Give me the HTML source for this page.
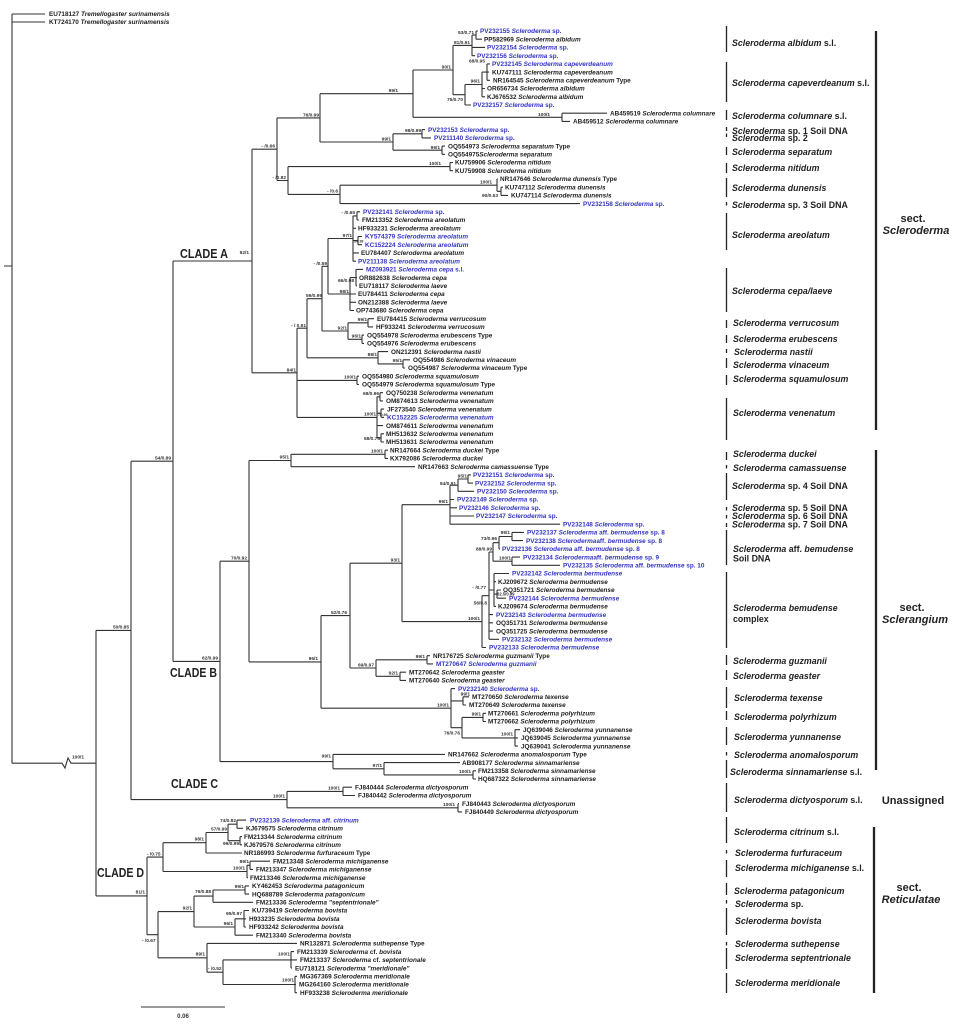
<!DOCTYPE html>
<html><head><meta charset="utf-8"><style>
html,body{margin:0;padding:0;background:#fff}
svg{display:block}
.t{fill:none;stroke:#333;stroke-width:1.1}
.l{font-family:"Liberation Sans",Arial,sans-serif;font-weight:bold;font-size:6.4px;fill:#1e1e1e}
.b{fill:#3434c4}
.i{font-style:italic}
.s{font-family:"Liberation Sans",Arial,sans-serif;font-weight:bold;font-size:4.8px;fill:#333;text-anchor:end}
.ss{font-family:"Liberation Sans",Arial,sans-serif;font-weight:bold;font-size:4.8px;fill:#333}
.tiny{font-family:"Liberation Sans",Arial,sans-serif;font-weight:bold;font-size:3.4px;fill:#333}
.r{font-family:"Liberation Sans",Arial,sans-serif;font-weight:bold;font-size:8.8px;fill:#222}
.sec{font-family:"Liberation Sans",Arial,sans-serif;font-weight:bold;font-size:11px;fill:#222;text-anchor:middle}
.cl{font-family:"Liberation Sans",Arial,sans-serif;font-weight:bold;font-size:13px;fill:#222}
.bar{stroke:#222;stroke-width:1.3}
.sbar{stroke:#222;stroke-width:2.3}
</style></head><body>
<svg width="955" height="1024" viewBox="0 0 955 1024" xmlns="http://www.w3.org/2000/svg">
<rect width="955" height="1024" fill="#fff"/>
<path class="t" d="
M476 31V39.2 M476 31H478 M476 39.2H482
M472 35.1V55.7 M472 35.1H476 M472 47.4H485 M472 55.7H475
M487 63.9V80.3 M487 63.9H490 M487 72.1H489 M487 80.3H490
M482 72.1V96.8 M482 72.1H487 M482 88.5H485 M482 96.8H485
M465 84.5V105 M465 84.5H482 M465 105H471
M453 45.4V94.7 M453 45.4H472 M453 94.7H465
M562 113.2V121.4 M562 113.2H607 M562 121.4H570
M413 70V117.3 M413 70H453 M413 117.3H562
M422 129.6V137.9 M422 129.6H425 M422 137.9H431
M442 146.1V154.3 M442 146.1H445 M442 154.3H445
M393 133.8V150.2 M393 133.8H422 M393 150.2H442
M320 93.7V142 M320 93.7H413 M320 142H393
M450 162.5V170.7 M450 162.5H453 M450 170.7H453
M501 187.2V195.4 M501 187.2H503 M501 195.4H508
M497 179V191.3 M497 179H498 M497 191.3H501
M340 185.2V203.6 M340 185.2H497 M340 203.6H580
M288 166.6V194.4 M288 166.6H450 M288 194.4H340
M277 117.9V180.5 M277 117.9H320 M277 180.5H288
M252 149.2V372.8 M252 149.2H277 M252 372.8H297
M357 211.8V220 M357 211.8H360 M357 220H359
M358 236.5V244.7 M358 236.5H362 M358 244.7H362
M353 215.9V261.2 M353 215.9H357 M353 228.3H356 M353 240.6H358 M353 252.9H359 M353 261.2H356
M356 269.4V285.8 M356 269.4H363 M356 277.6H357 M356 285.8H357
M350 277.6V310.5 M350 277.6H356 M350 294H356 M350 302.3H356 M350 310.5H354
M328 238.5V294 M328 238.5H353 M328 294H350
M368 318.7V326.9 M368 318.7H374 M368 326.9H373
M362 335.1V343.4 M362 335.1H364 M362 343.4H364
M348 322.8V339.3 M348 322.8H368 M348 339.3H362
M322 266.3V331 M322 266.3H328 M322 331H348
M403 359.8V368 M403 359.8H410 M403 368H405
M378 351.6V363.9 M378 351.6H388 M378 363.9H403
M307 298.7V357.8 M307 298.7H322 M307 357.8H378
M357 376.2V384.5 M357 376.2H359 M357 384.5H359
M380 392.7V400.9 M380 392.7H383 M380 400.9H383
M381 409.1V417.3 M381 409.1H384 M381 417.3H384
M381 433.8V442 M381 433.8H384 M381 442H384
M377 396.8V437.9 M377 396.8H380 M377 413.2H381 M377 425.6H383 M377 437.9H381
M297 328.2V417.4 M297 328.2H307 M297 380.4H357 M297 417.4H377
M385 450.2V458.4 M385 450.2H388 M385 458.4H388
M291 454.3V466.7 M291 454.3H385 M291 466.7H415
M468 474.9V483.1 M468 474.9H471 M468 483.1H473
M458 479V491.3 M458 479H468 M458 491.3H474
M450 485.2V524.2 M450 485.2H458 M450 499.5H454 M450 507.8H457 M450 516H474 M450 524.2H560
M512 532.4V540.6 M512 532.4H524 M512 540.6H523
M499 536.5V548.9 M499 536.5H512 M499 548.9H500
M512 557.1V565.3 M512 557.1H520 M512 565.3H560
M493 542.7V561.2 M493 542.7H499 M493 561.2H512
M497 590V598.2 M497 590H501 M497 598.2H506
M494 573.5V606.4 M494 573.5H509 M494 581.7H496 M494 594.1H497 M494 606.4H496
M489 552V639.3 M489 552H493 M489 590H494 M489 614.6H493 M489 622.8H493 M489 631.1H493 M489 639.3H499
M482 595.7V647.5 M482 595.7H489 M482 647.5H486
M402 504.7V621.6 M402 504.7H450 M402 621.6H482
M427 655.7V663.9 M427 655.7H430 M427 663.9H433
M400 672.2V680.4 M400 672.2H406 M400 680.4H406
M376 659.8V676.3 M376 659.8H427 M376 676.3H400
M350 563.2V668 M350 563.2H402 M350 668H376
M463 696.8V705 M463 696.8H469 M463 705H466
M483 713.3V721.5 M483 713.3H486 M483 721.5H486
M515 729.7V746.1 M515 729.7H520 M515 737.9H518 M515 746.1H518
M462 717.4V737.9 M462 717.4H483 M462 737.9H515
M451 688.6V727.7 M451 688.6H455 M451 700.9H463 M451 727.7H462
M321 615.6V708.2 M321 615.6H350 M321 708.2H451
M249 460.5V661.9 M249 460.5H291 M249 661.9H321
M473 770.8V779 M473 770.8H476 M473 779H476
M384 762.6V774.9 M384 762.6H460 M384 774.9H473
M333 754.4V768.8 M333 754.4H445 M333 768.8H384
M220 561.2V761.6 M220 561.2H249 M220 761.6H333
M173 261V661.4 M173 261H252 M173 661.4H220
M343 787.2V795.5 M343 787.2H352 M343 795.5H355
M458 803.7V811.9 M458 803.7H459 M458 811.9H462
M287 791.4V807.8 M287 791.4H343 M287 807.8H458
M131 461.2V799.6 M131 461.2H173 M131 799.6H287
M237 820.1V828.3 M237 820.1H246 M237 828.3H243
M240 836.6V844.8 M240 836.6H242 M240 844.8H242
M228 824.2V840.7 M228 824.2H237 M228 840.7H240
M206 832.5V853 M206 832.5H228 M206 853H242
M250 861.2V869.4 M250 861.2H270 M250 869.4H253
M247 865.3V877.7 M247 865.3H250 M247 877.7H248
M163 842.7V871.5 M163 842.7H206 M163 871.5H247
M245 885.9V894.1 M245 885.9H249 M245 894.1H249
M213 890V902.3 M213 890H245 M213 902.3H253
M244 910.5V927 M244 910.5H249 M244 918.8H246 M244 927H246
M235 918.8V935.2 M235 918.8H244 M235 935.2H253
M194 896.1V927 M194 896.1H213 M194 927H235
M291 951.6V968.1 M291 951.6H294 M291 959.9H297 M291 968.1H292
M295 976.3V992.7 M295 976.3H297 M295 984.5H296 M295 992.7H297
M223 959.9V984.5 M223 959.9H291 M223 984.5H295
M207 943.4V972.2 M207 943.4H297 M207 972.2H223
M158 911.6V957.8 M158 911.6H194 M158 957.8H207
M147 857.1V934.7 M147 857.1H163 M147 934.7H158
M96 630.4V895.9 M96 630.4H131 M96 895.9H147
M12 14V763.2 M12 14H45 M12 22H45 M12 763.2H62 L65 768 L68 758 L71 763.2H96
M4 266H12
M141 1007H225
"/>

<!-- outgroup -->
<text class="l" x="49" y="16.2">EU718127 <tspan class="i">Tremellogaster surinamensis</tspan></text>
<text class="l" x="49" y="24.2">KT724170 <tspan class="i">Tremellogaster surinamensis</tspan></text>

<!-- leaves -->
<text class="l b" x="480" y="33.2">PV232155 <tspan class="i">Scleroderma</tspan> sp.</text>
<text class="l" x="484" y="41.4">PP582969 <tspan class="i">Scleroderma albidum</tspan></text>
<text class="l b" x="487" y="49.6">PV232154 <tspan class="i">Scleroderma</tspan> sp.</text>
<text class="l b" x="477" y="57.9">PV232156 <tspan class="i">Scleroderma</tspan> sp.</text>
<text class="l b" x="492" y="66.1">PV232145 <tspan class="i">Scleroderma capeverdeanum</tspan></text>
<text class="l" x="492" y="74.3">KU747111 <tspan class="i">Scleroderma capeverdeanum</tspan></text>
<text class="l" x="493" y="82.5">NR164545 <tspan class="i">Scleroderma capeverdeanum</tspan> Type</text>
<text class="l" x="487" y="90.7">OR656734 <tspan class="i">Scleroderma albidum</tspan></text>
<text class="l" x="487" y="99.0">KJ676532 <tspan class="i">Scleroderma albidum</tspan></text>
<text class="l b" x="473" y="107.2">PV232157 <tspan class="i">Scleroderma</tspan> sp.</text>
<text class="l" x="610" y="115.4">AB459519 <tspan class="i">Scleroderma columnare</tspan></text>
<text class="l" x="573" y="123.6">AB459512 <tspan class="i">Scleroderma  columnare</tspan></text>
<text class="l b" x="428" y="131.8">PV232153 <tspan class="i">Scleroderma</tspan> sp.</text>
<text class="l b" x="434" y="140.1">PV211140 <tspan class="i">Scleroderma</tspan> sp.</text>
<text class="l" x="448" y="148.3">OQ554973 <tspan class="i">Scleroderma separatum</tspan> Type</text>
<text class="l" x="448" y="156.5">OQ554975<tspan class="i">Scleroderma separatum</tspan></text>
<text class="l" x="455" y="164.7">KU759906 <tspan class="i">Scleroderma nitidum</tspan></text>
<text class="l" x="455" y="172.9">KU759908 <tspan class="i">Scleroderma nitidum</tspan></text>
<text class="l" x="500" y="181.2">NR147646 <tspan class="i">Scleroderma dunensis</tspan> Type</text>
<text class="l" x="505" y="189.4">KU747112 <tspan class="i">Scleroderma dunensis</tspan></text>
<text class="l" x="511" y="197.6">KU747114 <tspan class="i">Scleroderma dunensis</tspan></text>
<text class="l b" x="583" y="205.8">PV232158 <tspan class="i">Scleroderma</tspan> sp.</text>
<text class="l b" x="363" y="214.0">PV232141 <tspan class="i">Scleroderma</tspan> sp.</text>
<text class="l" x="362" y="222.2">FM213352 <tspan class="i">Scleroderma areolatum</tspan></text>
<text class="l" x="358" y="230.5">HF933231 <tspan class="i">Scleroderma areolatum</tspan></text>
<text class="l b" x="365" y="238.7">KY574379 <tspan class="i">Scleroderma areolatum</tspan></text>
<text class="l b" x="365" y="246.9">KC152224 <tspan class="i">Scleroderma areolatum</tspan></text>
<text class="l" x="361" y="255.1">EU784407 <tspan class="i">Scleroderma areolatum</tspan></text>
<text class="l b" x="358" y="263.4">PV211138 <tspan class="i">Scleroderma areolatum</tspan></text>
<text class="l b" x="366" y="271.6">MZ093921 <tspan class="i">Scleroderma cepa</tspan> s.l.</text>
<text class="l" x="359" y="279.8">OR882638 <tspan class="i">Scleroderma cepa</tspan></text>
<text class="l" x="359" y="288.0">EU718117 <tspan class="i">Scleroderma laeve</tspan></text>
<text class="l" x="358" y="296.2">EU784411 <tspan class="i">Scleroderma cepa</tspan></text>
<text class="l" x="358" y="304.5">ON212388 <tspan class="i">Scleroderma laeve</tspan></text>
<text class="l" x="356" y="312.7">OP743680 <tspan class="i">Scleroderma cepa</tspan></text>
<text class="l" x="377" y="320.9">EU784415 <tspan class="i">Scleroderma verrucosum</tspan></text>
<text class="l" x="376" y="329.1">HF933241 <tspan class="i">Scleroderma verrucosum</tspan></text>
<text class="l" x="367" y="337.3">OQ554978 <tspan class="i">Scleroderma erubescens</tspan> Type</text>
<text class="l" x="367" y="345.6">OQ554976 <tspan class="i">Scleroderma erubescens</tspan></text>
<text class="l" x="391" y="353.8">ON212391 <tspan class="i">Scleroderma nastii</tspan></text>
<text class="l" x="413" y="362.0">OQ554986 <tspan class="i">Scleroderma vinaceum</tspan></text>
<text class="l" x="408" y="370.2">OQ554987 <tspan class="i">Scleroderma vinaceum</tspan> Type</text>
<text class="l" x="362" y="378.4">OQ554980 <tspan class="i">Scleroderma squamulosum</tspan></text>
<text class="l" x="362" y="386.7">OQ554979 <tspan class="i">Scleroderma squamulosum</tspan> Type</text>
<text class="l" x="386" y="394.9">OQ750238 <tspan class="i">Scleroderma venenatum</tspan></text>
<text class="l" x="386" y="403.1">OM874613 <tspan class="i">Scleroderma venenatum</tspan></text>
<text class="l" x="387" y="411.3">JF273540 <tspan class="i">Scleroderma venenatum</tspan></text>
<text class="l b" x="387" y="419.5">KC152225 <tspan class="i">Scleroderma venenatum</tspan></text>
<text class="l" x="386" y="427.8">OM874611 <tspan class="i">Scleroderma venenatum</tspan></text>
<text class="l" x="386" y="436.0">MH513632 <tspan class="i">Scleroderma venenatum</tspan></text>
<text class="l" x="386" y="444.2">MH513631 <tspan class="i">Scleroderma venenatum</tspan></text>
<text class="l" x="390" y="452.4">NR147664 <tspan class="i">Scleroderma duckei</tspan> Type</text>
<text class="l" x="390" y="460.6">KX792086 <tspan class="i">Scleroderma duckei</tspan></text>
<text class="l" x="418" y="468.9">NR147663 <tspan class="i">Scleroderma camassuense</tspan> Type</text>
<text class="l b" x="473" y="477.1">PV232151 <tspan class="i">Scleroderma</tspan> sp.</text>
<text class="l b" x="475" y="485.3">PV232152 <tspan class="i">Scleroderma</tspan> sp.</text>
<text class="l b" x="477" y="493.5">PV232150 <tspan class="i">Scleroderma</tspan> sp.</text>
<text class="l b" x="457" y="501.7">PV232149 <tspan class="i">Scleroderma</tspan> sp.</text>
<text class="l b" x="459" y="510.0">PV232146 <tspan class="i">Scleroderma</tspan> sp.</text>
<text class="l b" x="476" y="518.2">PV232147 <tspan class="i">Scleroderma</tspan> sp.</text>
<text class="l b" x="563" y="526.4">PV232148 <tspan class="i">Scleroderma</tspan> sp.</text>
<text class="l b" x="527" y="534.6">PV232137 <tspan class="i">Scleroderma</tspan> aff. <tspan class="i">bermudense</tspan> sp. 8</text>
<text class="l b" x="526" y="542.8">PV232138 <tspan class="i">Scleroderma</tspan>aff. <tspan class="i">bermudense</tspan> sp. 8</text>
<text class="l b" x="502" y="551.1">PV232136 <tspan class="i">Scleroderma</tspan>  aff.  <tspan class="i">bermudense</tspan>  sp. 8</text>
<text class="l b" x="523" y="559.3">PV232134 <tspan class="i">Scleroderma</tspan>aff. <tspan class="i">bermudense</tspan> sp. 9</text>
<text class="l b" x="563" y="567.5">PV232135 <tspan class="i">Scleroderma</tspan> aff. <tspan class="i">bermudense</tspan> sp. 10</text>
<text class="l b" x="512" y="575.7">PV232142 <tspan class="i">Scleroderma bermudense</tspan></text>
<text class="l" x="498" y="583.9">KJ209672 <tspan class="i">Scleroderma bermudense</tspan></text>
<text class="l" x="503" y="592.2">OQ351721 <tspan class="i">Scleroderma bermudense</tspan></text>
<text class="l b" x="509" y="600.4">PV232144 <tspan class="i">Scleroderma bermudense</tspan></text>
<text class="l" x="498" y="608.6">KJ209674 <tspan class="i">Scleroderma bermudense</tspan></text>
<text class="l b" x="496" y="616.8">PV232143 <tspan class="i">Scleroderma bermudense</tspan></text>
<text class="l" x="496" y="625.0">OQ351731 <tspan class="i">Scleroderma bermudense</tspan></text>
<text class="l" x="496" y="633.3">OQ351725 <tspan class="i">Scleroderma bermudense</tspan></text>
<text class="l b" x="502" y="641.5">PV232132 <tspan class="i">Scleroderma bermudense</tspan></text>
<text class="l b" x="489" y="649.7">PV232133 <tspan class="i">Scleroderma bermudense</tspan></text>
<text class="l" x="433" y="657.9">NR176725 <tspan class="i">Scleroderma guzmanii</tspan> Type</text>
<text class="l b" x="436" y="666.1">MT270647 <tspan class="i">Scleroderma guzmanii</tspan></text>
<text class="l" x="409" y="674.4">MT270642 <tspan class="i">Scleroderma geaster</tspan></text>
<text class="l" x="409" y="682.6">MT270640 <tspan class="i">Scleroderma geaster</tspan></text>
<text class="l b" x="458" y="690.8">PV232140 <tspan class="i">Scleroderma</tspan> sp.</text>
<text class="l" x="472" y="699.0">MT270650 <tspan class="i">Scleroderma texense</tspan></text>
<text class="l" x="469" y="707.2">MT270649 <tspan class="i">Scleroderma texense</tspan></text>
<text class="l" x="488" y="715.5">MT270661 <tspan class="i">Scleroderma polyrhizum</tspan></text>
<text class="l" x="488" y="723.7">MT270662 <tspan class="i">Scleroderma polyrhizum</tspan></text>
<text class="l" x="523" y="731.9">JQ639046 <tspan class="i">Scleroderma yunnanense</tspan></text>
<text class="l" x="521" y="740.1">JQ639045 <tspan class="i">Scleroderma yunnanense</tspan></text>
<text class="l" x="521" y="748.3">JQ639041 <tspan class="i">Scleroderma yunnanense</tspan></text>
<text class="l" x="448" y="756.6">NR147662 <tspan class="i">Scleroderma anomalosporum</tspan> Type</text>
<text class="l" x="462" y="764.8">AB908177 <tspan class="i">Scleroderma sinnamariense</tspan></text>
<text class="l" x="478" y="773.0">FM213358 <tspan class="i">Scleroderma sinnamariense</tspan></text>
<text class="l" x="478" y="781.2">HQ687322 <tspan class="i">Scleroderma sinnamariense</tspan></text>
<text class="l" x="355" y="789.4">FJ840444 <tspan class="i">Scleroderma dictyosporum</tspan></text>
<text class="l" x="358" y="797.7">FJ840442 <tspan class="i">Scleroderma dictyosporum</tspan></text>
<text class="l" x="462" y="805.9">FJ840443 <tspan class="i">Scleroderma dictyosporum</tspan></text>
<text class="l" x="465" y="814.1">FJ840449 <tspan class="i">Scleroderma dictyosporum</tspan></text>
<text class="l b" x="250" y="822.3">PV232139 <tspan class="i">Scleroderma</tspan>  aff.  <tspan class="i">citrinum</tspan></text>
<text class="l" x="246" y="830.5">KJ679575 <tspan class="i">Scleroderma citrinum</tspan></text>
<text class="l" x="244" y="838.8">FM213344 <tspan class="i">Scleroderma citrinum</tspan></text>
<text class="l" x="244" y="847.0">KJ679576 <tspan class="i">Scleroderma citrinum</tspan></text>
<text class="l" x="244" y="855.2">NR186993 <tspan class="i">Scleroderma furfuraceum</tspan> Type</text>
<text class="l" x="273" y="863.4">FM213348 <tspan class="i">Scleroderma michiganense</tspan></text>
<text class="l" x="256" y="871.6">FM213347 <tspan class="i">Scleroderma michiganense</tspan></text>
<text class="l" x="250" y="879.9">FM213346 <tspan class="i">Scleroderma michiganense</tspan></text>
<text class="l" x="252" y="888.1">KY462453 <tspan class="i">Scleroderma patagonicum</tspan></text>
<text class="l" x="252" y="896.3">HQ688789 <tspan class="i">Scleroderma patagonicum</tspan></text>
<text class="l" x="256" y="904.5">FM213336 <tspan class="i">Scleroderma "septentrionale"</tspan></text>
<text class="l" x="252" y="912.7">KU739419 <tspan class="i">Scleroderma bovista</tspan></text>
<text class="l" x="249" y="921.0">H933235 <tspan class="i">Scleroderma bovista</tspan></text>
<text class="l" x="249" y="929.2">HF933242 <tspan class="i">Scleroderma bovista</tspan></text>
<text class="l" x="256" y="937.4">FM213340 <tspan class="i">Scleroderma bovista</tspan></text>
<text class="l" x="300" y="945.6">NR132871 <tspan class="i">Scleroderma suthepense</tspan> Type</text>
<text class="l" x="297" y="953.8">FM213339 <tspan class="i">Scleroderma</tspan> cf. <tspan class="i">bovista</tspan></text>
<text class="l" x="300" y="962.1">FM213337 <tspan class="i">Scleroderma</tspan> cf. <tspan class="i">septentrionale</tspan></text>
<text class="l" x="295" y="970.3">EU718121 <tspan class="i">Scleroderma "meridionale"</tspan></text>
<text class="l" x="300" y="978.5">MG367369 <tspan class="i">Scleroderma meridionale</tspan></text>
<text class="l" x="299" y="986.7">MG264160 <tspan class="i">Scleroderma meridionale</tspan></text>
<text class="l" x="300" y="994.9">HF933238 <tspan class="i">Scleroderma meridionale</tspan></text>

<!-- support values -->
<text class="s" x="474" y="34">53/0.71</text>
<text class="s" x="470" y="44">81/0.91</text>
<text class="s" x="451" y="68.5">90/1</text>
<text class="s" x="485" y="62.5">68/0.95</text>
<text class="s" x="480" y="82.5">96/1</text>
<text class="s" x="463" y="101">75/0.70</text>
<text class="s" x="398" y="92">99/1</text>
<text class="s" x="550" y="115.8">100/1</text>
<text class="s" x="421" y="132">98/0.99</text>
<text class="s" x="391" y="140.5">99/1</text>
<text class="s" x="440" y="149">99/1</text>
<text class="s" x="441" y="165">100/1</text>
<text class="s" x="492" y="183.5">100/1</text>
<text class="s" x="498" y="197">90/0.53</text>
<text class="s" x="319" y="116.5">76/0.99</text>
<text class="s" x="275" y="147.5">- /0.66</text>
<text class="s" x="286" y="179">- /0.82</text>
<text class="s" x="338" y="192.5">- /0.6</text>
<text class="s" x="249" y="254">92/1</text>
<text class="s" x="355" y="214">- /0.65</text>
<text class="s" x="352" y="237">97/1</text>
<text class="tiny" x="354" y="242.5">3/0.99</text>
<text class="s" x="327" y="265">- /0.59</text>
<text class="s" x="354" y="282">66/0.98</text>
<text class="s" x="349" y="293">98/1</text>
<text class="s" x="322" y="297">59/0.99</text>
<text class="s" x="367" y="321">99/1</text>
<text class="s" x="347" y="329.5">92/1</text>
<text class="s" x="361" y="337.5">96/1</text>
<text class="s" x="306" y="327">- / 0.91</text>
<text class="s" x="377" y="356">88/1</text>
<text class="s" x="402" y="362">95/1</text>
<text class="s" x="296" y="371.5">84/1</text>
<text class="s" x="356" y="378.5">100/1</text>
<text class="s" x="379" y="395">68/0.96</text>
<text class="s" x="376" y="415.5">100/1</text>
<text class="tiny" x="378" y="416">7/0.99</text>
<text class="s" x="380" y="440">68/0.75</text>
<text class="s" x="171" y="459.5">54/0.89</text>
<text class="s" x="129" y="628.5">50/0.85</text>
<text class="s" x="218" y="659.5">62/0.99</text>
<text class="s" x="247" y="559.5">70/0.92</text>
<text class="s" x="289" y="458.5">95/1</text>
<text class="s" x="383" y="452.5">100/1</text>
<text class="s" x="467" y="477.5">95/1</text>
<text class="s" x="456" y="485">84/0.91</text>
<text class="s" x="448" y="503">99/1</text>
<text class="s" x="400" y="561.5">93/1</text>
<text class="s" x="510" y="534">99/1</text>
<text class="s" x="497" y="540">73/0.96</text>
<text class="s" x="492" y="550.5">88/0.99</text>
<text class="s" x="511" y="559.5">100/1</text>
<text class="s" x="486" y="589">- /0.77</text>
<text class="ss" x="497" y="595.5" style="font-size:4.2px">62.5/0.99</text>
<text class="s" x="487" y="604.5">56/0.8</text>
<text class="s" x="480" y="620">100/1</text>
<text class="s" x="347" y="614">52/0.76</text>
<text class="s" x="318" y="660">96/1</text>
<text class="s" x="374" y="666.5">69/0.97</text>
<text class="s" x="425" y="658">99/1</text>
<text class="s" x="398" y="674.5">92/1</text>
<text class="s" x="449" y="706.5">100/1</text>
<text class="s" x="470" y="695.5">99/1</text>
<text class="s" x="481" y="715.5">99/1</text>
<text class="s" x="460" y="734.5">76/0.76</text>
<text class="s" x="513" y="735.5">100/1</text>
<text class="s" x="331" y="757.5">99/1</text>
<text class="s" x="382" y="767">97/1</text>
<text class="s" x="471" y="773">100/1</text>
<text class="s" x="285" y="797.5">100/1</text>
<text class="s" x="340" y="789.5">100/1</text>
<text class="s" x="455" y="806">100/1</text>
<text class="ss" x="72" y="758.5">100/1</text>
<text class="s" x="145" y="893.5">81/1</text>
<text class="ss" x="147" y="855.5">- /0.75</text>
<text class="s" x="204" y="840.5">98/1</text>
<text class="s" x="227" y="830.5">57/0.99</text>
<text class="s" x="236" y="822">74/0.82</text>
<text class="s" x="239" y="845">99/0.99</text>
<text class="s" x="245" y="869.5">100/1</text>
<text class="s" x="249" y="863">89/1</text>
<text class="ss" x="142" y="942">- /0.67</text>
<text class="s" x="192" y="909.5">92/1</text>
<text class="s" x="211" y="893">76/0.88</text>
<text class="s" x="244" y="888">99/1</text>
<text class="s" x="233" y="925">96/1</text>
<text class="s" x="242" y="915">95/0.97</text>
<text class="s" x="205" y="955.5">89/1</text>
<text class="ss" x="208" y="970">- /0.52</text>
<text class="s" x="290" y="955.5">100/1</text>
<text class="s" x="294" y="981.5">100/1</text>

<!-- clade labels -->
<text class="cl" x="180" y="258" textLength="48" lengthAdjust="spacingAndGlyphs">CLADE A</text>
<text class="cl" x="170" y="677" textLength="47" lengthAdjust="spacingAndGlyphs">CLADE B</text>
<text class="cl" x="171" y="788" textLength="47" lengthAdjust="spacingAndGlyphs">CLADE C</text>
<text class="cl" x="97" y="877" textLength="47" lengthAdjust="spacingAndGlyphs">CLADE D</text>

<!-- scale bar -->
<text class="ss" x="183" y="1018" style="text-anchor:middle;font-size:6px">0.06</text>

<!-- right bars -->
<path class="bar" d="M726.5 26V52 M726.5 62V102 M726.5 110V120 M726.5 127V131 M726.5 133.5V137 M726.5 147V155 M726.5 163V173 M726.5 178V197 M726.5 202V205.5 M726.5 213V250 M726.5 268V312 M726.5 320V328 M726.5 335V343 M726.5 349V353 M726.5 358V368 M726.5 375V385 M726.5 398V440
M726.5 452V460 M726.5 465V468.5 M726.5 473V500 M726.5 507V510.5 M726.5 515V518.5 M726.5 523V527 M726.5 530V565 M726.5 572V648 M726.5 655V665 M726.5 670V680 M726.5 687V708 M726.5 711V720 M726.5 727V745 M726.5 752V755.5 M726.5 760V778 M726.5 783V812
M726.5 817V843 M726.5 850V853.5 M726.5 860V877 M726.5 883V895 M726.5 900V903.5 M726.5 908V935 M726.5 942V945.5 M726.5 948V969 M726.5 973V993"/>
<path class="sbar" d="M876 31V430 M876 450V770 M874 827V993"/>

<!-- right labels -->
<text class="r" x="732" y="46.2"><tspan class="i">Scleroderma albidum</tspan> s.l.</text>
<text class="r" x="732" y="86.2"><tspan class="i">Scleroderma capeverdeanum</tspan> s.l.</text>
<text class="r" x="732" y="119.2"><tspan class="i">Scleroderma columnare</tspan> s.l.</text>
<text class="r" x="732" y="134"><tspan class="i">Scleroderma</tspan> sp. 1 Soil DNA</text>
<text class="r" x="732" y="141"><tspan class="i">Scleroderma</tspan> sp. 2</text>
<text class="r" x="732" y="155"><tspan class="i">Scleroderma separatum</tspan></text>
<text class="r" x="732" y="171"><tspan class="i">Scleroderma nitidum</tspan></text>
<text class="r" x="732" y="191"><tspan class="i">Scleroderma dunensis</tspan></text>
<text class="r" x="732" y="208"><tspan class="i">Scleroderma</tspan> sp. 3 Soil DNA</text>
<text class="r" x="732" y="238"><tspan class="i">Scleroderma areolatum</tspan></text>
<text class="r" x="732" y="294"><tspan class="i">Scleroderma cepa/laeve</tspan></text>
<text class="r" x="733" y="326"><tspan class="i">Scleroderma verrucosum</tspan></text>
<text class="r" x="733" y="342"><tspan class="i">Scleroderma erubescens</tspan></text>
<text class="r" x="734" y="355"><tspan class="i">Scleroderma nastii</tspan></text>
<text class="r" x="733" y="368"><tspan class="i">Scleroderma vinaceum</tspan></text>
<text class="r" x="733" y="382"><tspan class="i">Scleroderma squamulosum</tspan></text>
<text class="r" x="733" y="416"><tspan class="i">Scleroderma venenatum</tspan></text>
<text class="r" x="733" y="457"><tspan class="i">Scleroderma duckei</tspan></text>
<text class="r" x="733" y="471"><tspan class="i">Scleroderma camassuense</tspan></text>
<text class="r" x="732" y="489"><tspan class="i">Scleroderma</tspan> sp. 4 Soil DNA</text>
<text class="r" x="732" y="511"><tspan class="i">Scleroderma</tspan> sp. 5 Soil DNA</text>
<text class="r" x="732" y="519"><tspan class="i">Scleroderma</tspan> sp. 6 Soil DNA</text>
<text class="r" x="732" y="527.5"><tspan class="i">Scleroderma</tspan> sp. 7 Soil DNA</text>
<text class="r" x="733" y="552"><tspan class="i">Scleroderma</tspan> aff. <tspan class="i">bemudense</tspan></text>
<text class="r" x="733" y="561.5">Soil DNA</text>
<text class="r" x="733" y="611"><tspan class="i">Scleroderma bemudense</tspan></text>
<text class="r" x="733" y="622">complex</text>
<text class="r" x="733" y="664"><tspan class="i">Scleroderma guzmanii</tspan></text>
<text class="r" x="733" y="679"><tspan class="i">Scleroderma geaster</tspan></text>
<text class="r" x="734" y="701"><tspan class="i">Scleroderma texense</tspan></text>
<text class="r" x="734" y="720"><tspan class="i">Scleroderma polyrhizum</tspan></text>
<text class="r" x="734" y="740"><tspan class="i">Scleroderma yunnanense</tspan></text>
<text class="r" x="734" y="758"><tspan class="i">Scleroderma anomalosporum</tspan></text>
<text class="r" x="730" y="775"><tspan class="i">Scleroderma sinnamariense</tspan> s.l.</text>
<text class="r" x="734" y="803"><tspan class="i">Scleroderma dictyosporum</tspan> s.l.</text>
<text class="r" x="734" y="835"><tspan class="i">Scleroderma citrinum</tspan> s.l.</text>
<text class="r" x="735" y="856"><tspan class="i">Scleroderma furfuraceum</tspan></text>
<text class="r" x="735" y="871"><tspan class="i">Scleroderma michiganense</tspan> s.l.</text>
<text class="r" x="734" y="894"><tspan class="i">Scleroderma patagonicum</tspan></text>
<text class="r" x="735" y="907"><tspan class="i">Scleroderma</tspan> sp.</text>
<text class="r" x="735" y="924"><tspan class="i">Scleroderma bovista</tspan></text>
<text class="r" x="735" y="947"><tspan class="i">Scleroderma suthepense</tspan></text>
<text class="r" x="735" y="961"><tspan class="i">Scleroderma septentrionale</tspan></text>
<text class="r" x="735" y="986"><tspan class="i">Scleroderma meridionale</tspan></text>

<!-- section labels -->
<text class="sec" x="913" y="222">sect.</text>
<text class="sec" x="916" y="234"><tspan class="i">Scleroderma</tspan></text>
<text class="sec" x="912" y="611">sect.</text>
<text class="sec" x="915" y="623"><tspan class="i">Sclerangium</tspan></text>
<text class="sec" x="913" y="804">Unassigned</text>
<text class="sec" x="909" y="891">sect.</text>
<text class="sec" x="911" y="903"><tspan class="i">Reticulatae</tspan></text>
</svg>
</body></html>
